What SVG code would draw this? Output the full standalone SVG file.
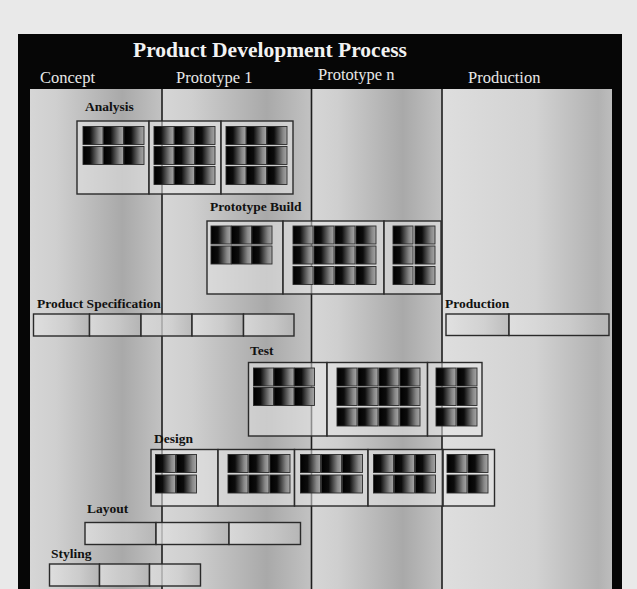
<svg xmlns="http://www.w3.org/2000/svg" xmlns:xlink="http://www.w3.org/1999/xlink" width="637" height="589" viewBox="0 0 637 589">
<defs>
<linearGradient id="colg" x1="0" y1="0" x2="1" y2="0">
<stop offset="0" stop-color="#d6d6d6"/><stop offset="0.2" stop-color="#cfcfcf"/><stop offset="0.7" stop-color="#a9a9a9"/><stop offset="1" stop-color="#c2c2c2"/>
</linearGradient>
<linearGradient id="colp" x1="0" y1="0" x2="1" y2="0">
<stop offset="0" stop-color="#dedede"/><stop offset="0.55" stop-color="#d2d2d2"/><stop offset="0.92" stop-color="#b2b2b2"/><stop offset="1" stop-color="#bdbdbd"/>
</linearGradient>
<linearGradient id="tile" x1="0" y1="0" x2="1" y2="0">
<stop offset="0" stop-color="#000"/><stop offset="0.35" stop-color="#0c0c0c"/><stop offset="0.8" stop-color="#888"/><stop offset="1" stop-color="#a6a6a6"/>
</linearGradient>
<linearGradient id="seg" x1="0" y1="0" x2="1" y2="0">
<stop offset="0" stop-color="#e2e2e2"/><stop offset="0.6" stop-color="#cfcfcf"/><stop offset="1" stop-color="#b4b4b4"/>
</linearGradient>
<rect id="c" width="20" height="18" fill="url(#tile)" stroke="#2b2b2b" stroke-width="0.9"/>
</defs>
<style>
.lbl{font-family:"Liberation Serif","Times New Roman",serif;font-weight:bold;font-size:13.5px;fill:#111}
.col{font-family:"Liberation Serif","Times New Roman",serif;font-size:16.5px;fill:#e8e8e8}
.sub{fill:#e8e8e8;fill-opacity:0.55;stroke:#2a2a2a;stroke-width:1.4}
.box{fill:none;stroke:#2a2a2a;stroke-width:1.4}
.sg{fill:url(#seg);fill-opacity:0.75;stroke:#2a2a2a;stroke-width:1.4}
.div{stroke:#1e1e1e;stroke-width:1.6}
</style>
<rect width="637" height="589" fill="#e9e9e9"/>
<rect x="18" y="34" width="604" height="560" fill="#060606"/>
<g id="columns">
<rect x="30" y="89" width="132" height="500" fill="url(#colg)"/>
<rect x="162" y="89" width="149.5" height="500" fill="url(#colg)"/>
<rect x="311.5" y="89" width="130.5" height="500" fill="url(#colg)"/>
<rect x="442" y="89" width="170" height="500" fill="url(#colp)"/>
<line class="div" x1="162" y1="89" x2="162" y2="589"/>
<line class="div" x1="311.5" y1="89" x2="311.5" y2="589"/>
<line class="div" x1="442" y1="89" x2="442" y2="589"/>
</g>
<g id="header">
<text x="270" y="57" text-anchor="middle" style="font-family:'Liberation Serif','Times New Roman',serif;font-weight:bold;font-size:21.5px;fill:#f2f2f2">Product Development Process</text>
<text class="col" x="40" y="83">Concept</text>
<text class="col" x="176" y="83">Prototype 1</text>
<text class="col" x="318" y="80">Prototype n</text>
<text class="col" x="468" y="83">Production</text>
</g>
<g id="connectors"/>
<g id="analysis">
<text class="lbl" x="85" y="110.5">Analysis</text>
<rect class="sub" x="77" y="121" width="72" height="73"/>
<rect class="sub" x="149" y="121" width="72" height="73"/>
<rect class="sub" x="221" y="121" width="72" height="73"/>
<use href="#c" x="83" y="126.5"/><use href="#c" x="103.5" y="126.5"/><use href="#c" x="124" y="126.5"/>
<use href="#c" x="83" y="146.5"/><use href="#c" x="103.5" y="146.5"/><use href="#c" x="124" y="146.5"/>
<use href="#c" x="154" y="126.5"/><use href="#c" x="174.5" y="126.5"/><use href="#c" x="195" y="126.5"/>
<use href="#c" x="154" y="146.5"/><use href="#c" x="174.5" y="146.5"/><use href="#c" x="195" y="146.5"/>
<use href="#c" x="154" y="166.5"/><use href="#c" x="174.5" y="166.5"/><use href="#c" x="195" y="166.5"/>
<use href="#c" x="226" y="126.5"/><use href="#c" x="246.5" y="126.5"/><use href="#c" x="267" y="126.5"/>
<use href="#c" x="226" y="146.5"/><use href="#c" x="246.5" y="146.5"/><use href="#c" x="267" y="146.5"/>
<use href="#c" x="226" y="166.5"/><use href="#c" x="246.5" y="166.5"/><use href="#c" x="267" y="166.5"/>
</g>
<g id="prototype-build">
<text class="lbl" x="210" y="210.5">Prototype Build</text>
<rect class="sub" x="207" y="221" width="76" height="73"/>
<rect class="sub" x="283" y="221" width="101" height="73"/>
<rect class="sub" x="384" y="221" width="57" height="73"/>
<use href="#c" x="211" y="226"/><use href="#c" x="231.5" y="226"/><use href="#c" x="252" y="226"/>
<use href="#c" x="211" y="246"/><use href="#c" x="231.5" y="246"/><use href="#c" x="252" y="246"/>
<use href="#c" x="293" y="226"/><use href="#c" x="314" y="226"/><use href="#c" x="335" y="226"/><use href="#c" x="356" y="226"/>
<use href="#c" x="293" y="246"/><use href="#c" x="314" y="246"/><use href="#c" x="335" y="246"/><use href="#c" x="356" y="246"/>
<use href="#c" x="293" y="266.5"/><use href="#c" x="314" y="266.5"/><use href="#c" x="335" y="266.5"/><use href="#c" x="356" y="266.5"/>
<use href="#c" x="393" y="226"/><use href="#c" x="415" y="226"/>
<use href="#c" x="393" y="246"/><use href="#c" x="415" y="246"/>
<use href="#c" x="393" y="266.5"/><use href="#c" x="415" y="266.5"/>
</g>
<g id="product-specification">
<text class="lbl" x="37" y="308">Product Specification</text>
<rect class="sg" x="33.5" y="314" width="56" height="22"/>
<rect class="sg" x="89.5" y="314" width="51.5" height="22"/>
<rect class="sg" x="141" y="314" width="51" height="22"/>
<rect class="sg" x="192" y="314" width="51.5" height="22"/>
<rect class="sg" x="243.5" y="314" width="50.5" height="22"/>
</g>
<g id="production">
<text class="lbl" x="445" y="308">Production</text>
<rect class="sg" x="446" y="314" width="63" height="21.5"/>
<rect class="sg" x="509" y="314" width="100" height="21.5"/>
</g>
<g id="test">
<text class="lbl" x="250" y="355">Test</text>
<rect class="sub" x="248.5" y="362.5" width="78.5" height="73.5"/>
<rect class="sub" x="327" y="362.5" width="100.5" height="73.5"/>
<rect class="sub" x="427.5" y="362.5" width="54.5" height="73.5"/>
<use href="#c" x="253.5" y="368"/><use href="#c" x="274" y="368"/><use href="#c" x="294.5" y="368"/>
<use href="#c" x="253.5" y="387.5"/><use href="#c" x="274" y="387.5"/><use href="#c" x="294.5" y="387.5"/>
<use href="#c" x="337" y="368"/><use href="#c" x="358" y="368"/><use href="#c" x="379" y="368"/><use href="#c" x="400" y="368"/>
<use href="#c" x="337" y="387.5"/><use href="#c" x="358" y="387.5"/><use href="#c" x="379" y="387.5"/><use href="#c" x="400" y="387.5"/>
<use href="#c" x="337" y="408"/><use href="#c" x="358" y="408"/><use href="#c" x="379" y="408"/><use href="#c" x="400" y="408"/>
<use href="#c" x="436" y="368"/><use href="#c" x="457" y="368"/>
<use href="#c" x="436" y="387.5"/><use href="#c" x="457" y="387.5"/>
<use href="#c" x="436" y="408"/><use href="#c" x="457" y="408"/>
</g>
<g id="design">
<text class="lbl" x="154" y="443">Design</text>
<rect class="sub" x="151" y="449.5" width="67" height="56.5"/>
<rect class="sub" x="218" y="449.5" width="76.5" height="56.5"/>
<rect class="sub" x="294.5" y="449.5" width="73.5" height="56.5"/>
<rect class="sub" x="368" y="449.5" width="75" height="56.5"/>
<rect class="sub" x="443" y="449.5" width="51.5" height="56.5"/>
<use href="#c" x="155.5" y="454.5"/><use href="#c" x="176.5" y="454.5"/>
<use href="#c" x="155.5" y="475"/><use href="#c" x="176.5" y="475"/>
<use href="#c" x="228" y="454.5"/><use href="#c" x="249" y="454.5"/><use href="#c" x="270" y="454.5"/>
<use href="#c" x="228" y="475"/><use href="#c" x="249" y="475"/><use href="#c" x="270" y="475"/>
<use href="#c" x="300.5" y="454.5"/><use href="#c" x="321.5" y="454.5"/><use href="#c" x="342.5" y="454.5"/>
<use href="#c" x="300.5" y="475"/><use href="#c" x="321.5" y="475"/><use href="#c" x="342.5" y="475"/>
<use href="#c" x="373.5" y="454.5"/><use href="#c" x="394.5" y="454.5"/><use href="#c" x="415.5" y="454.5"/>
<use href="#c" x="373.5" y="475"/><use href="#c" x="394.5" y="475"/><use href="#c" x="415.5" y="475"/>
<use href="#c" x="447" y="454.5"/><use href="#c" x="468" y="454.5"/>
<use href="#c" x="447" y="475"/><use href="#c" x="468" y="475"/>
</g>
<g id="layout">
<text class="lbl" x="87" y="512.5">Layout</text>
<rect class="sg" x="85" y="522.5" width="71" height="22"/>
<rect class="sg" x="156" y="522.5" width="73" height="22"/>
<rect class="sg" x="229" y="522.5" width="71.5" height="22"/>
</g>
<g id="styling">
<text class="lbl" x="51" y="557.5">Styling</text>
<rect class="sg" x="49.5" y="564" width="50" height="22"/>
<rect class="sg" x="99.5" y="564" width="50" height="22"/>
<rect class="sg" x="149.5" y="564" width="51" height="22"/>
</g>
</svg>
